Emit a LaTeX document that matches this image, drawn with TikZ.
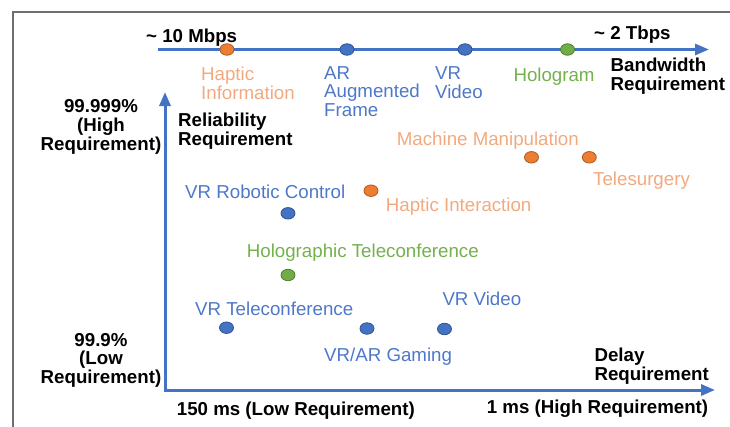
\documentclass[tikz,border=0pt]{standalone}
\usepackage{fontspec}
\setmainfont{Liberation Sans}
\usetikzlibrary{arrows.meta,shapes.geometric}

\definecolor{axisblue}{HTML}{4472C4}
\definecolor{frameg}{HTML}{6E6E6E}
\definecolor{dotblue}{HTML}{4472C4}
\definecolor{dotblueline}{HTML}{2F528F}
\definecolor{dotorange}{HTML}{ED7D31}
\definecolor{dotorangeline}{HTML}{AE5A21}
\definecolor{dotgreen}{HTML}{70AD47}
\definecolor{dotgreenline}{HTML}{507E32}
\definecolor{txtblue}{HTML}{4D78C9}
\definecolor{txtorange}{HTML}{F2A97F}
\definecolor{txtgreen}{HTML}{74B04C}

\tikzset{
  axisline/.style={draw=axisblue, line width=3pt, -{Triangle[length=14pt,width=11pt]}},
  dot/.style={ellipse, minimum width=14pt, minimum height=11.5pt, inner sep=0pt, line width=0.8pt},
  bdot/.style={dot, fill=dotblue, draw=dotblueline},
  odot/.style={dot, fill=dotorange, draw=dotorangeline},
  gdot/.style={dot, fill=dotgreen, draw=dotgreenline},
  % base anchor of a multi-line label sits on its last line
  lbl/.style={inner sep=0pt, anchor=base west, align=left,
    font=\fontsize{18.7}{18.6}\selectfont},
  bold/.style={lbl, font=\fontsize{18.7}{18.6}\selectfont\bfseries, text=black},
  blbl/.style={lbl, text=txtblue},
  olbl/.style={lbl, text=txtorange},
  glbl/.style={lbl, text=txtgreen},
}

\begin{document}
\begin{tikzpicture}[x=1pt, y=-1pt]
\useasboundingbox (0,0) rectangle (730,426);

% outer frame
\draw[frameg, line width=1.2pt] (13,440) -- (13,12) -- (740,12);

% axes
\coordinate (bwstart) at (158,49.5);
\coordinate (bwtip) at (709,49.5);
\coordinate (origin) at (165,390);
\coordinate (reltip) at (165,92);
\coordinate (delaytip) at (715,390);
\draw[axisline] (bwstart) -- (bwtip);
\draw[axisline, {Triangle[length=14pt,width=11pt]}-{Triangle[length=14pt,width=11pt]}, line join=miter]
  (reltip) -- (origin) -- (delaytip);

% bandwidth axis labels
\node[bold] (lowbw) at (146,42.5) {\textasciitilde\ 10 Mbps};
\node[bold] (highbw) at (594,39.3) {\textasciitilde\ 2 Tbps};
\node[bold] (bwname) at (610.5,90) {Bandwidth\\Requirement};

% bandwidth axis points
\node[odot] (hapinfo) at (227,49.5) {};
\node[bdot] (arframe) at (347,49.5) {};
\node[bdot] (vrvid1) at (465,49.5) {};
\node[gdot] (holo) at (567.5,49.5) {};
\node[olbl] (hapinfol) at (201,99.3) {Haptic\\Information};
\node[blbl] (arframel) at (324,116.5) {AR\\Augmented\\Frame};
\node[blbl] (vrvid1l) at (435,98) {VR\\Video};
\node[glbl] (holol) at (513.3,81.5) {Hologram};

% reliability axis labels
\node[bold, anchor=base, align=center] (relhigh) at (101,150) {99.999\%\\(High\\Requirement)};
\node[bold, anchor=base, align=center] (rellow) at (101,383.5) {99.9\%\\(Low\\Requirement)};
\node[bold] (relname) at (178,145.5) {Reliability\\Requirement};

% delay axis labels
\node[bold] (delayname) at (594.3,380.5) {Delay\\Requirement};
\node[bold] (delaylow) at (176.7,415) {150 ms (Low Requirement)};
\node[bold] (delayhigh) at (486.7,413) {1 ms (High Requirement)};

% use cases
\node[odot] (machine) at (531.5,157.3) {};
\node[odot] (telesurg) at (589.3,157.3) {};
\node[odot] (hapint) at (371,190.7) {};
\node[bdot] (robot) at (288,213.3) {};
\node[gdot] (holoconf) at (288,275) {};
\node[bdot] (vrconf) at (226.5,327.7) {};
\node[bdot] (gaming) at (367,328.5) {};
\node[bdot] (vrvid2) at (444.5,329) {};

\node[olbl] (machinel) at (396.7,145) {Machine Manipulation};
\node[olbl] (telesurgl) at (593,185) {Telesurgery};
\node[olbl] (hapintl) at (385.7,211.7) {Haptic Interaction};
\node[blbl] (robotl) at (185,198.3) {VR Robotic Control};
\node[glbl] (holoconfl) at (246.7,257) {Holographic Teleconference};
\node[blbl] (vrconfl) at (195,315) {VR Teleconference};
\node[blbl] (vrvid2l) at (442.3,305) {VR Video};
\node[blbl] (gamingl) at (324,361.7) {VR/AR Gaming};
\end{tikzpicture}
\end{document}
